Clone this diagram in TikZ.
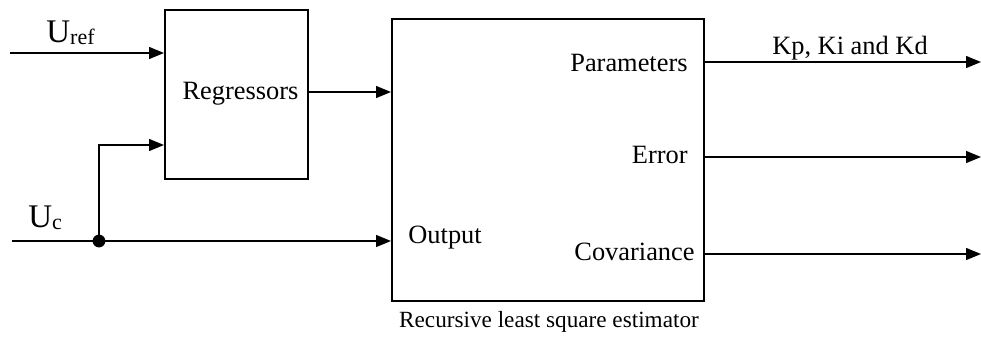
\documentclass[tikz,border=0pt]{standalone}
\usepackage{fontspec}
\setmainfont{Liberation Serif}
\usetikzlibrary{arrows.meta}
\newcommand{\signame}[2]{{\fontsize{16.5}{18}\selectfont #1}{\fontsize{11}{12}\selectfont\raisebox{-1pt}{#2}}}
\begin{document}
\begin{tikzpicture}[x=0.5pt,y=-0.5pt,
  blk/.style={draw,line width=1pt,inner sep=0pt},
  sig/.style={line width=0.7pt,-{Triangle[length=7.5pt,width=6pt]}},
  wire/.style={line width=0.7pt},
  lbl/.style={font=\fontsize{13.2}{16}\selectfont,inner sep=0pt},
  captext/.style={font=\fontsize{11.6}{14}\selectfont,inner sep=0pt}]
\useasboundingbox (0,0) rectangle (981,338);
% blocks
\node[blk,minimum width=71.5pt,minimum height=84.5pt,anchor=north west] (reg) at (164,9) {};
\node[blk,minimum width=156pt,minimum height=141pt,anchor=north west] (rls) at (391,18) {};
\node[lbl,anchor=base] (regt) at (240.5,99) {Regressors};
\node[lbl,anchor=base west] (outt) at (408,243) {Output};
\node[lbl,anchor=base east] (part) at (688,71) {Parameters};
\node[lbl,anchor=base east] (errt) at (688,163) {Error};
\node[lbl,anchor=base east] (covt) at (695,260) {Covariance};
\node[captext,anchor=base] (capt) at (549,327) {Recursive least square estimator};
% input signals
\coordinate (uin) at (10,53);
\coordinate (cin) at (12,241);
\coordinate (jn) at (99,241);
\coordinate (up) at (99,145);
\node[inner sep=0pt,anchor=base west] (ureft) at (46,42) {\signame{U}{ref}};
\node[inner sep=0pt,anchor=base west] (uct) at (28,227) {\signame{U}{c}};
\draw[sig] (uin) -- (uin -| reg.west);
\draw[wire] (cin) -- (jn);
\draw[sig] (jn) -- (jn -| rls.west);
\draw[sig] (jn) -- (up) -- (up -| reg.west);
\fill (jn) circle (3.2pt);
\draw[sig] (reg.east |- 0,92) -- (rls.west |- 0,92);
% outputs
\coordinate (o1) at (981,62);
\coordinate (o2) at (981,157);
\coordinate (o3) at (981,254);
\draw[sig] (rls.east |- o1) -- (o1);
\draw[sig] (rls.east |- o2) -- (o2);
\draw[sig] (rls.east |- o3) -- (o3);
\node[lbl,anchor=base] (kt) at (850,54) {Kp, Ki and Kd};
\end{tikzpicture}
\end{document}
